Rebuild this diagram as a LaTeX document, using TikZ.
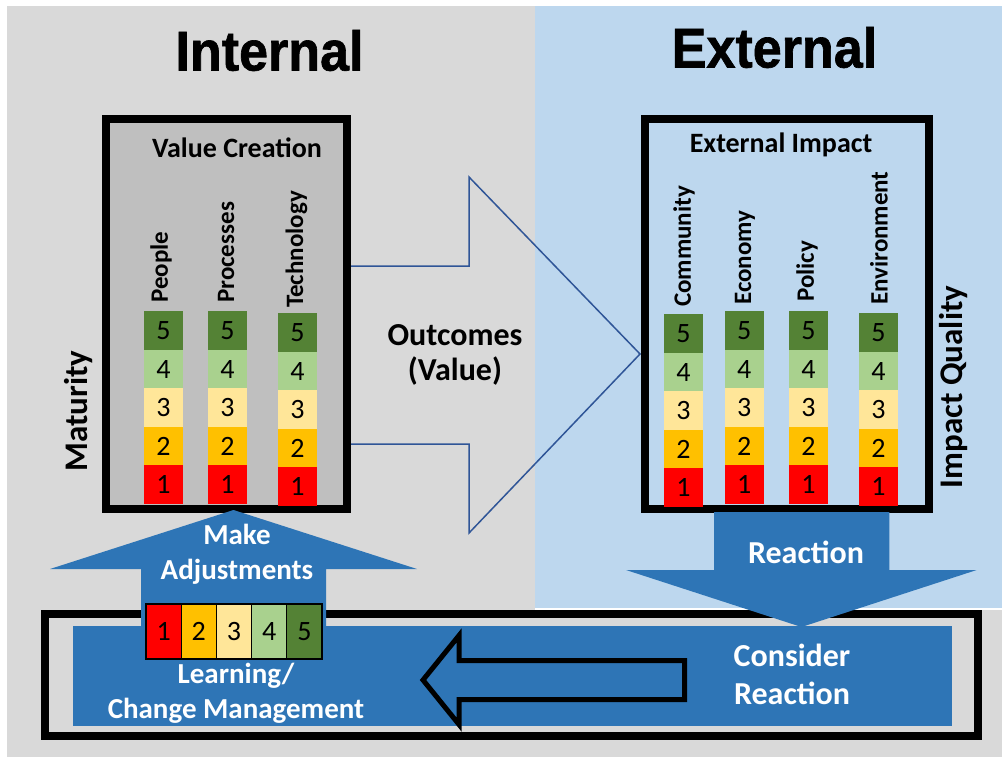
\documentclass[tikz,border=0pt]{standalone}
\usepackage{fontspec}
\setmainfont{Carlito}
\newfontfamily\headfont{Liberation Sans}[BoldFeatures={FakeBold=1.2}]
\definecolor{bgGray}{HTML}{D9D9D9}
\definecolor{bgBlue}{HTML}{BDD7EE}
\definecolor{boxGray}{HTML}{BFBFBF}
\definecolor{flowBlue}{HTML}{2E75B6}
\definecolor{lineBlue}{HTML}{2F5597}
\definecolor{lvA}{HTML}{FF0000}
\definecolor{lvB}{HTML}{FFC000}
\definecolor{lvC}{HTML}{FFE699}
\definecolor{lvD}{HTML}{A9D18E}
\definecolor{lvE}{HTML}{548235}
\tikzset{
  heading/.style={inner sep=0, font=\headfont\bfseries\fontsize{56}{56}\selectfont},
  boxtitle/.style={inner sep=0, font=\bfseries\fontsize{28}{30}\selectfont},
  collabel/.style={inner sep=0, rotate=90, anchor=west, font=\bfseries\fontsize{25}{25}\selectfont},
  axislabel/.style={inner sep=0, rotate=90, font=\bfseries\fontsize{33}{33}\selectfont},
  cell/.style={inner sep=0, minimum width=39pt, minimum height=38.5pt, anchor=south,
    font=\fontsize{28}{28}\selectfont},
  barcell/.style={draw=black, line width=1.2pt, inner sep=0, minimum width=35.2pt,
    minimum height=55pt, font=\fontsize{28}{28}\selectfont},
  framebox/.style={draw=black, line width=8pt, inner sep=0},
  flowtext/.style={inner sep=0, text=white, align=center, font=\bfseries\fontsize{32}{38}\selectfont},
  flowtextsm/.style={inner sep=0, text=white, align=center, font=\bfseries\fontsize{29}{35}\selectfont},
  flowshape/.style={fill=flowBlue},
}
% one column of maturity levels, 1 at the bottom
\newcommand\levelcol[3]{%
  \foreach \n/\c in {1/lvA,2/lvB,3/lvC,4/lvD,5/lvE}{
    \node[cell, fill=\c] (#1-\n) at (#2, {#3-(\n-1)*38.5}) {\n};
  }}
\begin{document}
\begin{tikzpicture}[x=1pt, y=-1pt]
\useasboundingbox (0,0) rectangle (1002,757);
\fill[white] (0,0) rectangle (1002,757);
% backgrounds
\fill[bgGray] (7,6) rectangle (1002,757);
\fill[bgBlue] (535,6) rectangle (1002,607.5);
\fill[white] (535,607.5) rectangle (1002,609.5);

% headings
\node[heading] (internal) at (269.5,50.5) {\scalebox{0.93}[1]{Internal}};
\node[heading] (external) at (774.5,47.5) {\scalebox{0.93}[1]{External}};

% outcomes arrow (outline only)
\coordinate (oa1) at (230,266);
\coordinate (oa2) at (469,266);
\coordinate (oa3) at (469,177);
\coordinate (oatip) at (640,354);
\coordinate (oa5) at (469,533);
\coordinate (oa6) at (469,444);
\coordinate (oa7) at (230,444);
\draw[lineBlue, line width=1.5pt, line join=miter]
  (oa1) -- (oa2) -- (oa3) -- (oatip) -- (oa5) -- (oa6) -- (oa7);

% value creation box
\node[framebox, fill=boxGray, minimum width=241.4pt, minimum height=390pt] (valbox) at (226.3,314) {};
% external impact box
\node[framebox, minimum width=284pt, minimum height=389.7pt] (impbox) at (786.7,313.9) {};

\node[boxtitle] (valtitle) at (237,148) {Value Creation};
\node[boxtitle] (imptitle) at (781,145) {External Impact};

\node[collabel] (lPeople) at (161,303) {People};
\node[collabel] (lProc) at (226,303) {Processes};
\node[collabel] (lTech) at (296.5,308) {Technology};
\levelcol{people}{163.5}{504}
\levelcol{proc}{227.5}{504}
\levelcol{tech}{297.5}{506}

\node[collabel] (lComm) at (684,307) {Community};
\node[collabel] (lEcon) at (745,305) {Economy};
\node[collabel] (lPol) at (807,302) {Policy};
\node[collabel] (lEnv) at (879,305) {Environment};
\levelcol{comm}{683.5}{507}
\levelcol{econ}{744.2}{504}
\levelcol{pol}{808.5}{504}
\levelcol{env}{878.5}{506}

\node[axislabel] (maturity) at (79,411) {Maturity};
\node[axislabel] (quality) at (954,387) {Impact Quality};

\node[inner sep=0, align=center, font=\bfseries\fontsize{32}{35}\selectfont] (outcomes) at (455,354.5) {Outcomes\\(Value)};

% learning loop frame
\draw[black, line width=8pt] (44.7,614) rectangle (978.4,736);
\fill[flowBlue] (73.3,626) rectangle (951.7,726);
\coordinate (loop) at (512.5,676);

% hollow arrow pointing back to learning
\draw[flowshape, draw=black, line width=5pt, line join=miter]
  (423,680) -- (459,635.5) -- (459,660.5) -- (684.5,660.5) -- (684.5,699.5)
  -- (459,699.5) -- (459,724.5) -- cycle;

% make adjustments arrow
\fill[flowshape] (141,630) -- (141,569) -- (50,569) -- (233.5,510) -- (417,569)
  -- (326,569) -- (326,630) -- cycle;
% reaction arrow
\fill[flowshape] (714,512) -- (889.3,512) -- (889.3,570) -- (976.7,570)
  -- (801.5,627) -- (626,570) -- (714,570) -- cycle;

% learning scale
\foreach \n/\c in {1/lvA,2/lvB,3/lvC,4/lvD,5/lvE}{
  \node[barcell, fill=\c] (bar-\n) at ({146+(\n-0.5)*35.2},631.5) {\n};
}

\node[flowtextsm] (adjust) at (237,554.5) {Make\\Adjustments};
\node[flowtextsm] (learning) at (236,693) {Learning/\\Change Management};
\node[flowtext] (reaction) at (806,552) {Reaction};
\node[flowtext] (consider) at (792,674) {Consider\\Reaction};
\end{tikzpicture}
\end{document}
